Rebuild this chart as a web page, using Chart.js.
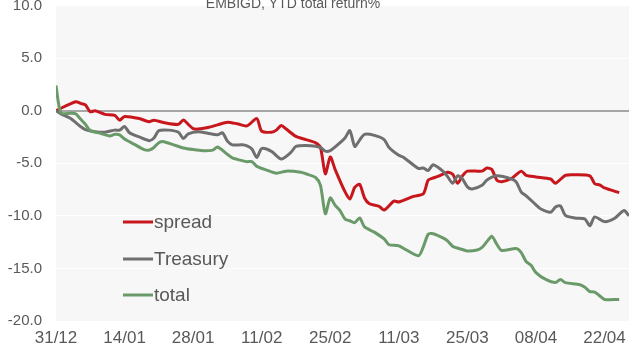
<!DOCTYPE html>
<html>
<head>
<meta charset="utf-8">
<script src="https://cdn.jsdelivr.net/npm/chart.js@4.4.1/dist/chart.umd.min.js"></script>
<style>
  html, body { margin: 0; padding: 0; background: #ffffff; }
  #wrap { width: 629px; height: 346px; }
</style>
</head>
<body>
<div id="wrap"><canvas id="ytd_chart" width="629" height="346"></canvas></div>
<script>
//! Chart data (x = days since 31/12)
const chart_title = 'EMBIGD, YTD total return%';
const base_date = new Date(2021, 11, 31);
const tick_days = [0, 14, 28, 42, 56, 70, 84, 98, 112];

const spread_days = [0, 4, 5, 6, 7, 8, 10, 12, 13, 14, 17, 19, 20, 22, 25, 26, 27, 28, 29, 31, 33, 35, 37, 39, 41, 42, 44, 45, 46, 47, 49, 51, 53, 54, 55, 56, 57, 59, 60, 61, 62, 63, 64, 66, 67, 69, 70, 73, 75, 76, 77, 78, 80, 81, 82, 83, 84, 87, 88, 89, 90, 91, 93, 95, 96, 98, 101, 102, 104, 106, 109, 110, 111, 112, 115];
const spread_values = [0, 0.85, 0.7, 0.55, -0.1, 0, -0.35, -0.45, -0.9, -0.55, -0.75, -1.05, -0.9, -1.13, -1.3, -0.88, -1.3, -1.7, -1.75, -1.6, -1.35, -1.1, -1.25, -1.45, -0.75, -1.95, -2.05, -1.85, -1.4, -1.75, -2.45, -2.75, -3.05, -3.5, -6.0, -4.4, -5.6, -7.7, -8.4, -7.3, -7.0, -8.3, -8.85, -9.1, -9.45, -8.6, -8.68, -8.15, -7.9, -6.6, -6.4, -6.25, -5.85, -6.05, -6.9, -6.2, -5.75, -5.75, -5.45, -5.6, -6.6, -6.75, -6.45, -5.75, -6.15, -6.3, -6.5, -6.9, -6.15, -6.1, -6.2, -6.95, -7.05, -7.35, -7.8];

const treasury_days = [0, 1, 3, 5, 6, 8, 10, 12, 13, 14, 15, 17, 19, 20, 21, 23, 25, 26, 27, 29, 31, 33, 34, 35, 36, 38, 39, 40, 41, 42, 44, 46, 48, 49, 52, 54, 55, 56, 57, 59, 60, 61, 62, 63, 65, 67, 68, 70, 71, 74, 75, 76, 77, 79, 80, 81, 82, 83, 84, 85, 87, 88, 90, 93, 94, 95, 96, 98, 99, 101, 102, 103, 104, 106, 108, 109, 110, 112, 114, 116, 117];
const treasury_values = [0, -0.3, -0.75, -1.5, -1.8, -2.0, -2.05, -1.85, -1.85, -1.5, -2.1, -2.5, -2.85, -2.6, -1.9, -1.85, -2.05, -2.65, -2.2, -2.0, -2.15, -2.3, -2.1, -2.9, -3.25, -3.25, -3.35, -3.65, -4.45, -3.6, -3.87, -4.6, -3.95, -3.4, -3.33, -3.5, -3.85, -3.8, -3.45, -2.6, -1.9, -3.4, -2.8, -2.25, -2.35, -2.75, -3.5, -4.25, -4.45, -5.5, -5.45, -5.7, -5.15, -5.75, -6.3, -6.9, -6.2, -6.5, -7.25, -7.45, -7.1, -6.6, -6.2, -6.5, -6.8, -7.75, -8.1, -8.95, -9.35, -9.65, -9.15, -9.05, -9.95, -10.2, -10.3, -10.95, -10.1, -10.55, -10.25, -9.5, -10.0];

const total_days = [0, 1, 3, 4, 5, 6, 7, 9, 11, 12, 13, 14, 16, 18, 19, 20, 21, 22, 24, 26, 28, 30, 32, 33, 35, 36, 38, 39, 40, 41, 43, 45, 47, 50, 51, 53, 54, 55, 56, 57, 58, 59, 60, 61, 62, 63, 65, 67, 68, 70, 74, 75, 76, 77, 79, 80, 81, 83, 84, 86, 87, 88, 89, 90, 91, 94, 95, 96, 97, 98, 100, 102, 103, 104, 107, 108, 109, 110, 111, 112, 115];
const total_values = [2.4, -0.2, -0.25, -0.3, -0.8, -1.3, -1.9, -2.15, -2.4, -2.25, -2.3, -2.7, -3.2, -3.7, -3.75, -3.5, -3.05, -2.95, -3.25, -3.55, -3.7, -3.8, -3.75, -3.45, -4.15, -4.5, -4.75, -4.85, -4.85, -5.3, -5.65, -5.95, -5.75, -5.85, -6.0, -6.35, -7.1, -9.8, -8.3, -9.0, -9.5, -10.3, -10.47, -10.65, -10.2, -11.05, -11.55, -12.2, -12.75, -12.85, -13.8, -12.95, -11.75, -11.7, -12.1, -12.4, -12.9, -13.2, -13.35, -13.25, -13.0, -12.45, -11.95, -12.7, -13.3, -13.1, -13.5, -14.35, -14.7, -15.4, -16.05, -16.35, -16.05, -16.35, -16.55, -16.8, -17.2, -17.25, -17.6, -17.95, -17.95];

const series_labels = ['spread', 'Treasury', 'total'];
const series_colors = ['#c8161d', '#6f6f6f', '#6a9a6a'];

//! Helpers
function toPoints(days, values) {
    return days.map((d, i) => ({ x: d, y: values[i] }));
}

function formatDay(offset) {
    let date = new Date(base_date.getFullYear(), base_date.getMonth(), base_date.getDate() + offset);
    let dd = String(date.getDate()).padStart(2, '0');
    let mm = String(date.getMonth() + 1).padStart(2, '0');
    return `${dd}/${mm}`;
}

const text_color = '#595959';
const font_family = '"Liberation Sans", Arial, sans-serif';

//! Plot background, title and in-plot legend
const plotBackground = {
    id: 'plotBackground',
    beforeDraw(chart) {
        const { ctx, chartArea: a } = chart;
        ctx.save();
        ctx.fillStyle = '#f7f7f7';
        ctx.fillRect(a.left, a.top, a.right - a.left, a.bottom - a.top);
        ctx.restore();
    }
};

const titleAndLegend = {
    id: 'titleAndLegend',
    afterDraw(chart) {
        const ctx = chart.ctx;
        ctx.save();
        ctx.fillStyle = text_color;
        ctx.font = `14px ${font_family}`;
        ctx.textAlign = 'center';
        ctx.textBaseline = 'alphabetic';
        ctx.fillText(chart_title, 293, 8);

        const rows = [222, 259, 295];
        ctx.font = `19px ${font_family}`;
        ctx.textAlign = 'left';
        ctx.textBaseline = 'middle';
        chart.data.datasets.forEach((ds, i) => {
            ctx.strokeStyle = ds.borderColor;
            ctx.lineWidth = 3;
            ctx.beginPath();
            ctx.moveTo(123, rows[i]);
            ctx.lineTo(153, rows[i]);
            ctx.stroke();
            ctx.fillStyle = text_color;
            ctx.fillText(ds.label, 154, rows[i] + 1);
        });
        ctx.restore();
    }
};

//! Chart
const ctx = document.getElementById('ytd_chart').getContext('2d');
const all_days = [spread_days, treasury_days, total_days];
const all_values = [spread_values, treasury_values, total_values];

const my_chart = new Chart(ctx, {
    type: 'line',
    data: {
        datasets: series_labels.map((label, i) => ({
            label: label,
            data: toPoints(all_days[i], all_values[i]),
            borderColor: series_colors[i],
            backgroundColor: series_colors[i],
            borderWidth: 3,
            pointRadius: 0,
            tension: 0.25,
            fill: false,
            order: 2 - i
        }))
    },
    options: {
        responsive: false,
        animation: false,
        devicePixelRatio: 1,
        layout: { padding: { top: 5.5, right: 0, bottom: 0, left: 0 } },
        plugins: {
            legend: { display: false },
            title: { display: false },
            tooltip: { enabled: false }
        },
        scales: {
            x: {
                type: 'linear',
                min: 0,
                max: 117,
                grid: { display: false, drawTicks: false },
                border: { display: false },
                ticks: {
                    autoSkip: false,
                    maxRotation: 0,
                    padding: 7,
                    color: text_color,
                    font: { family: font_family, size: 17 },
                    callback: v => formatDay(v)
                },
                afterBuildTicks: scale => {
                    scale.ticks = tick_days.map(d => ({ value: d }));
                },
                afterFit: scale => {
                    scale.height = 25;
                    scale.paddingLeft = 0;
                    scale.paddingRight = 0;
                }
            },
            y: {
                min: -20,
                max: 10,
                grid: {
                    drawTicks: false,
                    color: c => c.tick && c.tick.value === 0 ? '#a6a6a6' : '#ffffff',
                    lineWidth: c => c.tick && c.tick.value === 0 ? 2 : 1
                },
                border: { display: false },
                ticks: {
                    stepSize: 5,
                    padding: 14,
                    color: text_color,
                    font: { family: font_family, size: 15 },
                    callback: v => v.toFixed(1)
                },
                afterFit: scale => {
                    scale.width = 56;
                    scale.paddingTop = 0;
                    scale.paddingBottom = 0;
                }
            }
        }
    },
    plugins: [plotBackground, titleAndLegend]
});
</script>
</body>
</html>
